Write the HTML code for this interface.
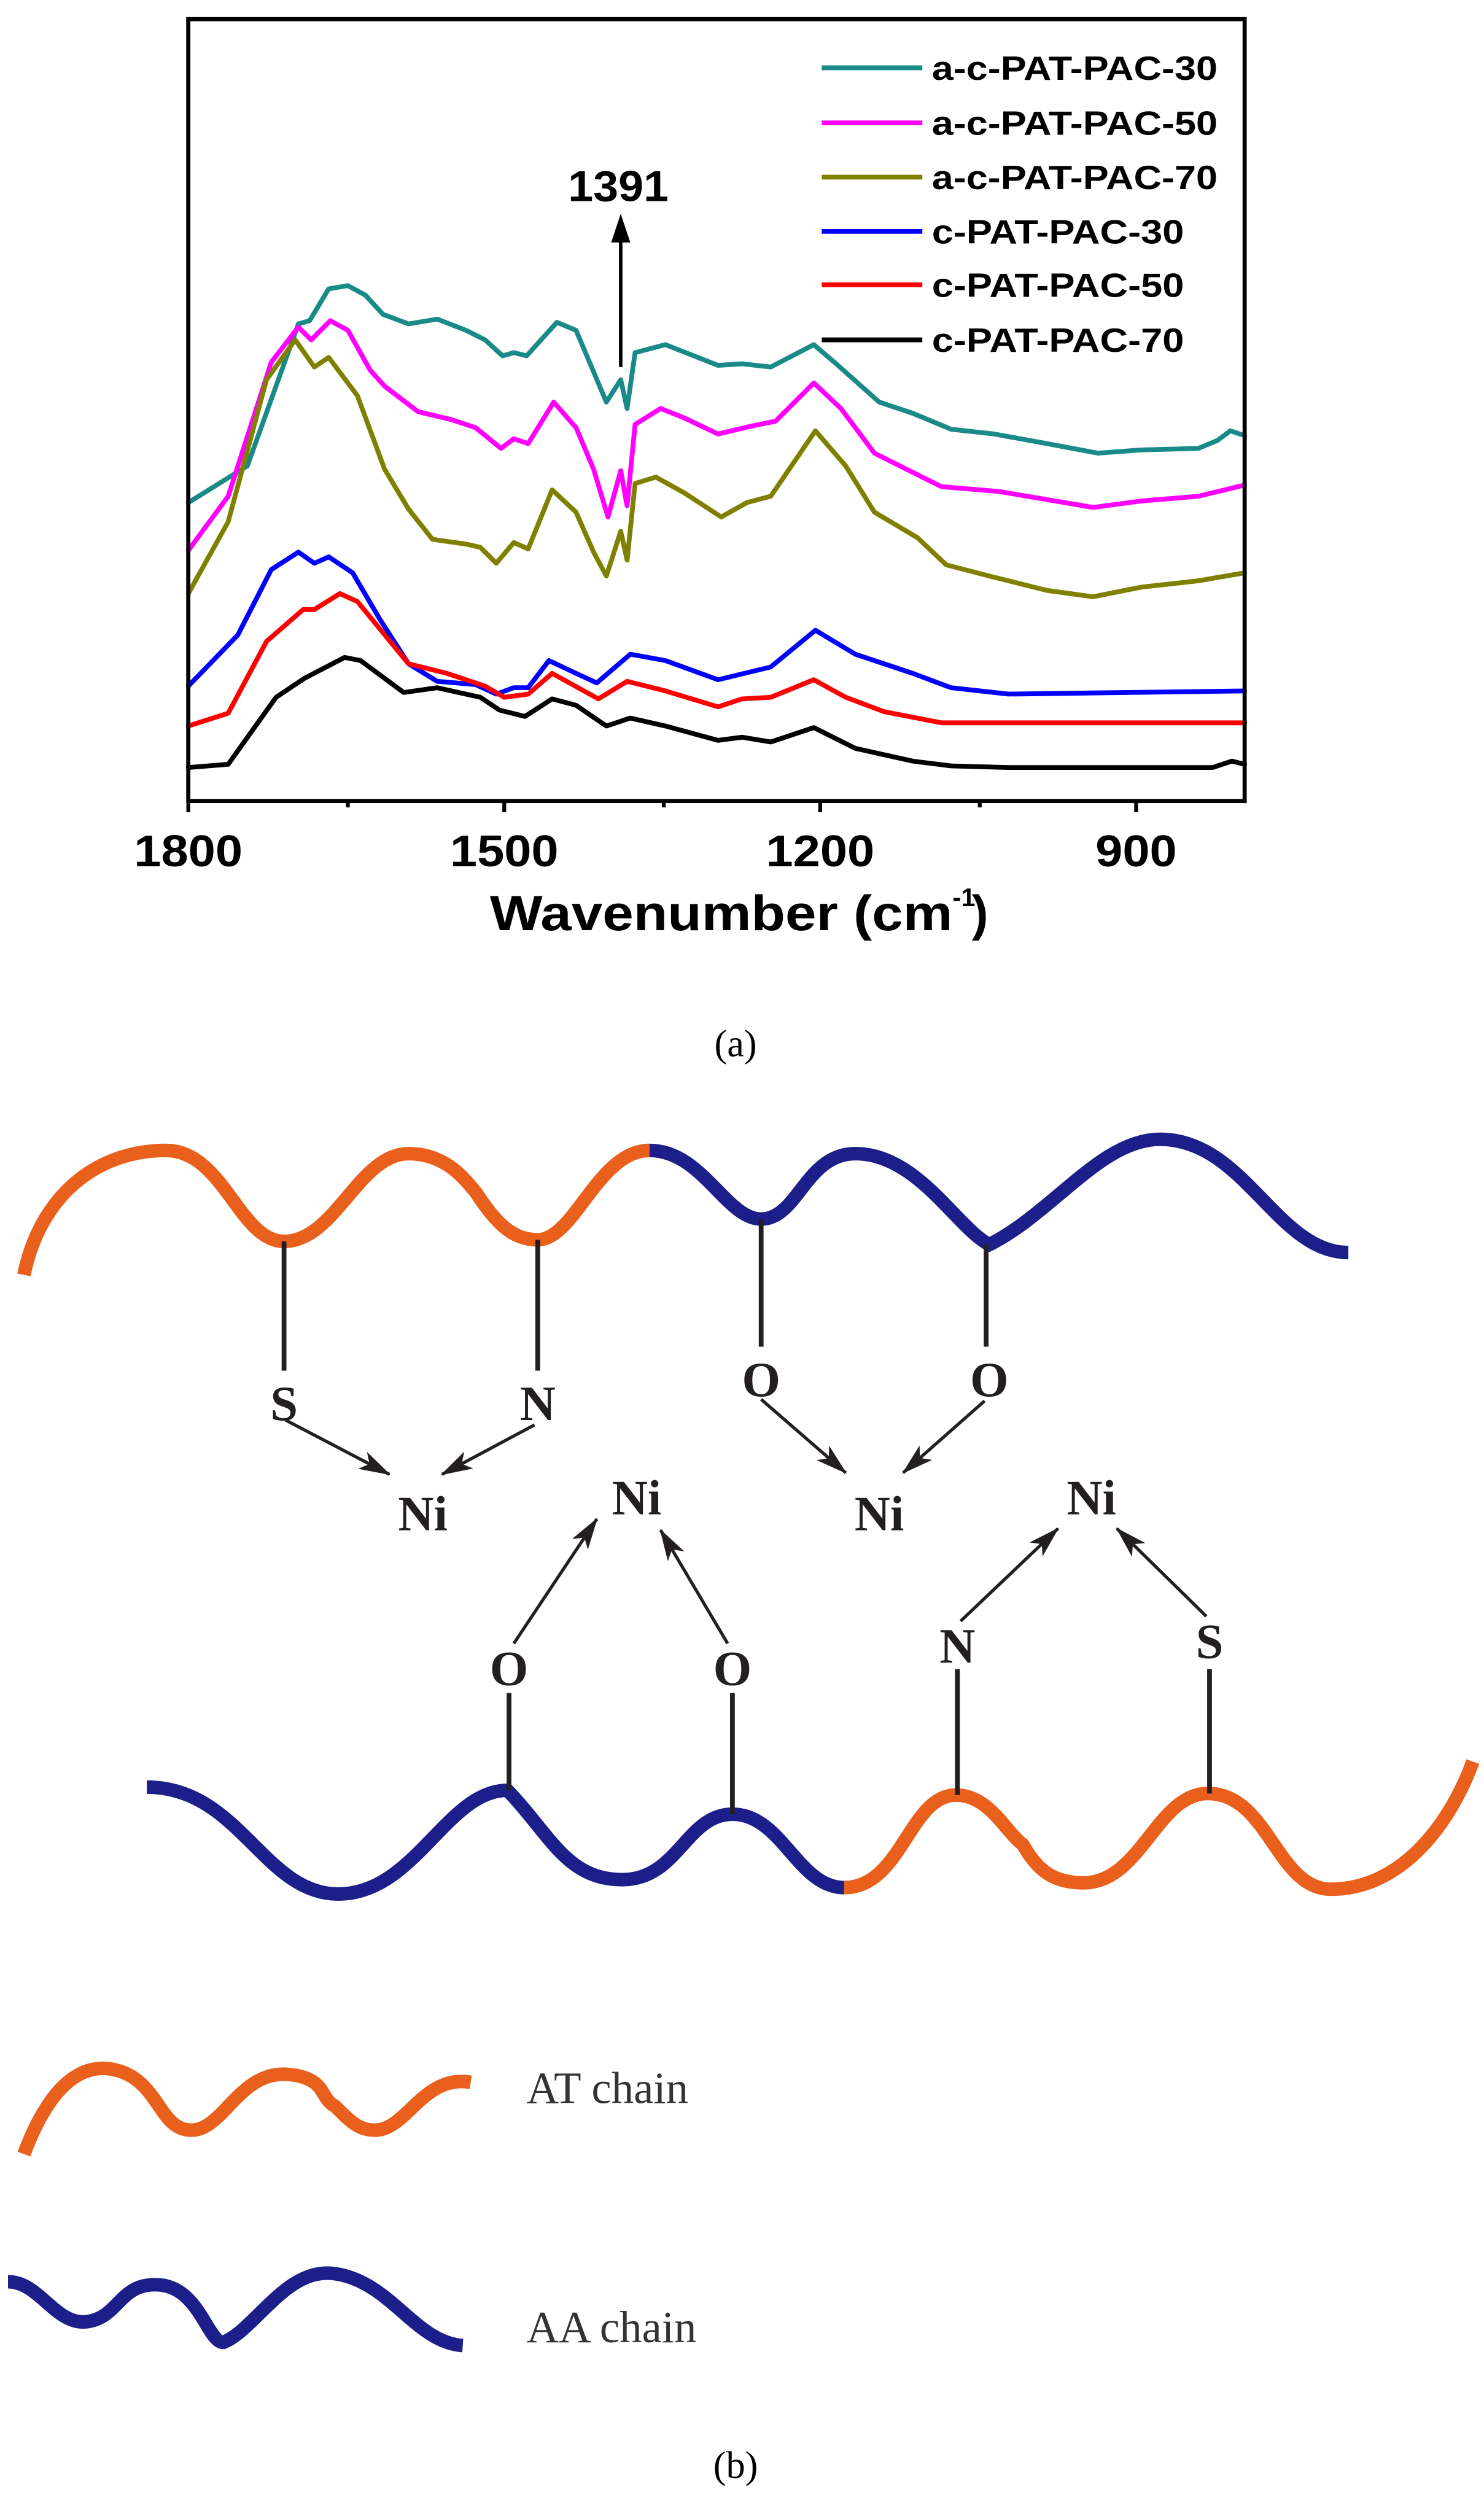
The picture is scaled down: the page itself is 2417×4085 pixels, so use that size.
<!DOCTYPE html>
<html><head><meta charset="utf-8"><style>html,body{margin:0;padding:0;background:#fff}svg{display:block}</style></head>
<body>
<svg width="2417" height="4085" viewBox="0 0 930 1571.8" xmlns="http://www.w3.org/2000/svg">
<rect width="930" height="1572" fill="#fff"/>
<g fill="none" stroke-width="3" stroke-linejoin="round" stroke-linecap="round">
<polyline stroke="#1a8a88" points="118,315 155,292 187,203 194,201 206,181 218,179 229,185 240,197 256,203 274,200 292,207 304,213 315,223 322,221 330,223 349,202 361,207 380,252 389,238 393,256 398,221 417,216 450,229 465,228 483,230 510,216 524,228 551,252 572,259 596,269 623,272 656,278 688,284 715,282 751,281 763,276 771,270 780,273"/>
<polyline stroke="#ff00ff" points="118,345 143,311 170,227 187,205 195,213 207,201 218,207 232,232 241,242 262,258 283,263 298,268 314,281 322,275 331,278 347,252 361,268 372,294 381,324 389,295 393,317 398,266 414,256 429,262 450,272 471,267 486,264 510,240 527,256 548,284 590,305 626,308 685,318 715,314 751,311 780,304"/>
<polyline stroke="#808000" points="118,372 143,327 167,238 185,213 197,230 206,224 224,248 241,294 256,319 271,338 292,341 301,343 311,353 322,340 331,344 346,307 361,321 372,346 380,361 389,333 393,351 398,303 411,299 429,309 452,324 468,315 483,311 511,270 530,292 548,321 575,337 593,354 620,361 656,370 685,374 715,368 751,364 780,359"/>
<polyline stroke="#0000ff" points="118,430 149,398 170,357 187,346 197,353 206,349 221,359 238,388 256,416 274,427 298,429 311,435 322,431 331,431 344,414 361,422 374,428 395,410 417,414 450,426 483,418 511,395 536,410 572,422 596,431 632,435 780,433"/>
<polyline stroke="#ff0000" points="118,455 143,447 167,402 190,382 197,382 213,372 224,377 256,416 280,422 304,430 316,437 331,435 346,422 375,438 393,427 417,433 450,443 465,438 483,437 510,426 530,437 554,446 590,453 780,453"/>
<polyline stroke="#000" points="118,481 143,479 173,437 191,425 216,412 226,414 253,434 274,431 301,437 313,445 329,449 346,438 361,442 380,455 395,450 417,455 450,464 465,462 483,465 510,456 536,469 572,477 596,480 632,481 760,481 772,477 780,479"/>
</g>
<rect x="118" y="12" width="662" height="490" fill="none" stroke="#000" stroke-width="2.6"/>
<g stroke="#000" stroke-width="2.4">
<line x1="118" y1="502" x2="118" y2="509"/><line x1="316" y1="502" x2="316" y2="509"/><line x1="514" y1="502" x2="514" y2="509"/><line x1="712" y1="502" x2="712" y2="509"/>
<line x1="218" y1="502" x2="218" y2="506"/><line x1="416" y1="502" x2="416" y2="506"/><line x1="614" y1="502" x2="614" y2="506"/>
</g>
<g font-family="Liberation Sans, sans-serif" font-weight="bold" font-size="28" text-anchor="middle">
<text x="118" y="543" textLength="68" lengthAdjust="spacingAndGlyphs">1800</text>
<text x="316" y="543" textLength="68" lengthAdjust="spacingAndGlyphs">1500</text>
<text x="514" y="543" textLength="68" lengthAdjust="spacingAndGlyphs">1200</text>
<text x="712" y="543" textLength="51" lengthAdjust="spacingAndGlyphs">900</text>
</g>
<text x="307" y="583" font-family="Liberation Sans, sans-serif" font-weight="bold" font-size="31" textLength="290" lengthAdjust="spacingAndGlyphs">Wavenumber (cm</text>
<text x="597" y="568" font-family="Liberation Sans, sans-serif" font-weight="bold" font-size="16">-1</text>
<text x="609" y="583" font-family="Liberation Sans, sans-serif" font-weight="bold" font-size="31">)</text>
<text x="356" y="126" font-family="Liberation Sans, sans-serif" font-weight="bold" font-size="27" textLength="63" lengthAdjust="spacingAndGlyphs">1391</text>
<line x1="389" y1="230" x2="389" y2="150" stroke="#000" stroke-width="2.2"/>
<polygon points="389,134 383,152 395,152" fill="#000"/>
<g stroke-width="3">
<line x1="515" y1="42.5" x2="578" y2="42.5" stroke="#1a8a88"/>
<line x1="515" y1="77" x2="578" y2="77" stroke="#ff00ff"/>
<line x1="515" y1="111" x2="578" y2="111" stroke="#808000"/>
<line x1="515" y1="145" x2="578" y2="145" stroke="#0000ff"/>
<line x1="515" y1="178.5" x2="578" y2="178.5" stroke="#ff0000"/>
<line x1="515" y1="213" x2="578" y2="213" stroke="#000"/>
</g>
<g font-family="Liberation Sans, sans-serif" font-weight="bold" font-size="21" lengthAdjust="spacingAndGlyphs">
<text x="584" y="50" textLength="179" lengthAdjust="spacingAndGlyphs">a-c-PAT-PAC-30</text>
<text x="584" y="84.5" textLength="179" lengthAdjust="spacingAndGlyphs">a-c-PAT-PAC-50</text>
<text x="584" y="118.5" textLength="179" lengthAdjust="spacingAndGlyphs">a-c-PAT-PAC-70</text>
<text x="584" y="152.5" textLength="158" lengthAdjust="spacingAndGlyphs">c-PAT-PAC-30</text>
<text x="584" y="186" textLength="158" lengthAdjust="spacingAndGlyphs">c-PAT-PAC-50</text>
<text x="584" y="220.5" textLength="158" lengthAdjust="spacingAndGlyphs">c-PAT-PAC-70</text>
</g>
<text x="461" y="662" font-family="Liberation Serif, serif" font-size="24" text-anchor="middle">(a)</text>
<g fill="none" stroke-width="8.5" stroke-linecap="butt">
<path stroke="#e8601c" d="M15,799 C25,750 60,721 104,721 C140,721 150,778 178,778 C210,778 225,723 256,723 C280,723 292,740 298,747 C310,765 320,777 337,777 C360,777 375,721 407,721"/>
<path stroke="#1c1f8a" d="M407,721 C440,721 455,764 477,764 C500,764 505,723 536,723 C575,723 600,770 620,780 C660,760 690,714 727,714 C780,714 800,785 845,785"/>
<path stroke="#1c1f8a" d="M92,1120 C150,1120 165,1187 212,1187 C260,1187 280,1122 318,1122 C345,1150 355,1178 390,1178 C425,1178 430,1137 459,1137 C490,1137 500,1183 529,1183"/>
<path stroke="#e8601c" d="M529,1183 C565,1183 570,1125 599,1125 C620,1125 630,1148 641,1156 C650,1172 660,1180 679,1180 C715,1180 725,1124 757,1124 C795,1124 800,1184 834,1184 C880,1184 910,1140 923,1104"/>
<path stroke="#e8601c" d="M15,1350 C30,1310 50,1290 75,1298 C100,1306 100,1335 120,1335 C140,1335 150,1298 180,1300 C205,1302 200,1315 210,1320 C220,1330 225,1335 235,1335 C255,1335 265,1300 295,1305"/>
<path stroke="#1c1f8a" d="M5,1430 C25,1430 35,1458 55,1455 C75,1452 75,1430 100,1432 C125,1434 130,1468 140,1468 C160,1460 180,1420 210,1425 C245,1430 260,1468 290,1470"/>
</g>
<g stroke="#231f20" stroke-width="3">
<line x1="178" y1="778" x2="178" y2="859"/><line x1="337" y1="777" x2="337" y2="859"/>
<line x1="477" y1="764" x2="477" y2="844"/><line x1="618" y1="780" x2="618" y2="844"/>
<line x1="319" y1="1061" x2="319" y2="1122"/><line x1="459" y1="1061" x2="459" y2="1137"/>
<line x1="600" y1="1046" x2="600" y2="1125"/><line x1="758" y1="1046" x2="758" y2="1124"/>
</g>
<defs><marker id="ah" viewBox="0 0 20 12" refX="19" refY="6" markerWidth="10" markerHeight="6" orient="auto"><path d="M0,0 L20,6 L0,12 L5,6 z" fill="#231f20"/></marker></defs>
<g stroke="#231f20" stroke-width="2" marker-end="url(#ah)">
<line x1="179" y1="890" x2="244" y2="924"/><line x1="335" y1="893" x2="277" y2="924"/>
<line x1="477" y1="877" x2="530" y2="923"/><line x1="617" y1="878" x2="566" y2="923"/>
<line x1="322" y1="1030" x2="374" y2="952"/><line x1="456" y1="1030" x2="414" y2="959"/>
<line x1="602" y1="1016" x2="663" y2="958"/><line x1="756" y1="1013" x2="700" y2="958"/>
</g>
<g font-family="Liberation Serif, serif" font-weight="bold" font-size="31" text-anchor="middle" fill="#231f20">
<text x="178" y="890">S</text><text x="337" y="890">N</text><text x="477" y="875">O</text><text x="620" y="875">O</text>
<text x="265" y="959">Ni</text><text x="551" y="959">Ni</text><text x="399" y="949">Ni</text><text x="684" y="949">Ni</text>
<text x="319" y="1056">O</text><text x="459" y="1056">O</text><text x="600" y="1042">N</text><text x="758" y="1039">S</text>
</g>
<g font-family="Liberation Serif, serif" font-size="28" fill="#333">
<text x="330" y="1318">AT chain</text><text x="330" y="1468">AA chain</text>
</g>
<text x="461" y="1553" font-family="Liberation Serif, serif" font-size="24" text-anchor="middle">(b)</text>
</svg>
</body></html>
